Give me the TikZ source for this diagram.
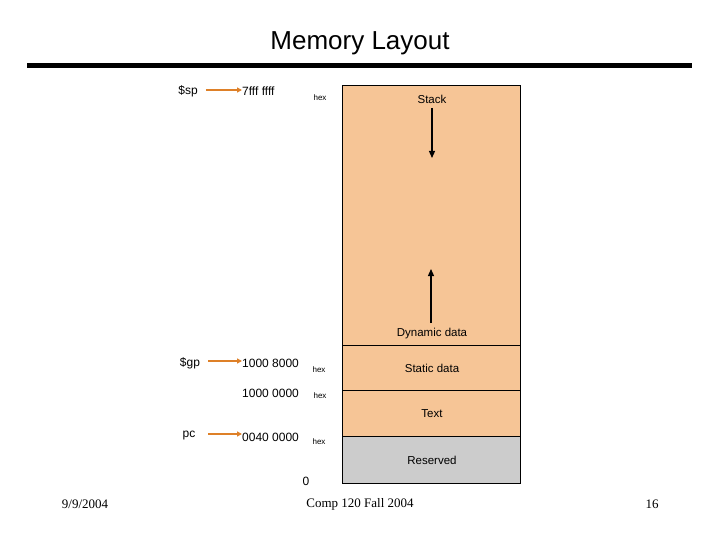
\documentclass[tikz,border=0pt]{standalone}
\usepackage{fontspec}
\setmainfont{Liberation Sans}
\newfontfamily\timesf{Liberation Serif}
\usetikzlibrary{arrows.meta}
\definecolor{seg}{RGB}{246,197,150}
\definecolor{res}{RGB}{204,204,204}
\definecolor{arr}{RGB}{222,128,40}
\begin{document}
\begin{tikzpicture}[x=1pt,y=-1pt,
  lbl/.style={font=\fontsize{12}{14}\selectfont,inner sep=0pt},
  hexl/.style={font=\fontsize{8}{9}\selectfont,inner sep=0pt},
  foot/.style={font=\timesf\fontsize{13}{15}\selectfont,inner sep=0pt},
  seglbl/.style={font=\fontsize{11.5}{13}\selectfont,inner sep=0pt},
  oarrow/.style={arr,line width=1.5pt,-{Triangle[length=5pt,width=5pt]}},
  karrow/.style={black,line width=1.2pt,-{Triangle[length=7pt,width=6pt]}}]
\useasboundingbox (0,0) rectangle (720,540);
\node[font=\fontsize{26}{30}\selectfont,inner sep=0pt] (title) at (360,43) {Memory Layout};
\fill (27,63.5) rectangle (692,68.5);
% segments
\draw[fill=seg,line width=1pt] (342,86) rectangle (520,345);
\draw[fill=seg,line width=1pt] (342,345) rectangle (520,390);
\draw[fill=seg,line width=1pt] (342,390) rectangle (520,436);
\draw[fill=res,line width=1pt] (342,436) rectangle (520,483);
\node[seglbl] (stack) at (432,99) {Stack};
\node[seglbl] (dyn) at (432,334) {Dynamic data};
\node[seglbl] (stat) at (432,368) {Static data};
\node[seglbl] (text) at (432,414) {Text};
\node[seglbl] (resv) at (432,460) {Reserved};
\coordinate (sdtop) at (432,108); \coordinate (sdbot) at (432,158);
\coordinate (dutop) at (431,269); \coordinate (dubot) at (431,323);
\draw[karrow] (sdtop) -- (sdbot);
\draw[karrow] (dubot) -- (dutop);
% left labels
\node[lbl] (sp) at (188,91) {\$sp};
\node[lbl,anchor=west] (a1) at (242,91) {7fff ffff};
\node[hexl] (h1) at (320,98) {hex};
\draw[oarrow] (sp.east) ++(8,-1) coordinate (sps) -- (a1.west |- sps);
\node[lbl] (gp) at (190,363) {\$gp};
\node[lbl,anchor=west] (a2) at (242,363) {1000 8000};
\node[hexl] (h2) at (319,370) {hex};
\draw[oarrow] (208,361) coordinate (gps) -- (a2.west |- gps);
\node[lbl,anchor=west] (a3) at (242,393) {1000 0000};
\node[hexl] (h3) at (320,396) {hex};
\node[lbl] (pc) at (189,436) {pc};
\node[lbl,anchor=west] (a4) at (242,437) {0040 0000};
\node[hexl] (h4) at (319,442) {hex};
\draw[oarrow] (208,434) coordinate (pcs) -- (a4.west |- pcs);
\node[lbl] (zero) at (306,481) {0};
% footer
\node[foot] (f1) at (85,504) {9/9/2004};
\node[foot] (f2) at (360,504) {Comp 120 Fall 2004};
\node[foot] (f3) at (652,504) {16};
\end{tikzpicture}
\end{document}
